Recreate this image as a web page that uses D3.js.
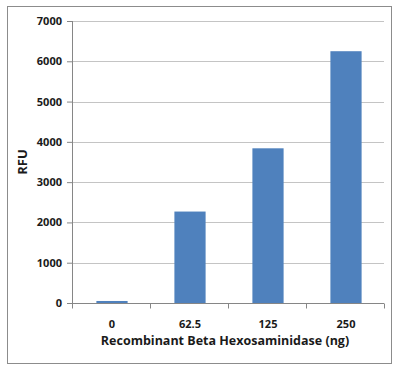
<!DOCTYPE html>
<html>
<head>
<meta charset="utf-8">
<script src="https://cdn.jsdelivr.net/npm/d3@7"></script>
<style>
  body { margin: 0; background: #fff; }
  text { font-family: "Open Sans", "DejaVu Sans", sans-serif; font-weight: bold; fill: #1a1a1a; }
</style>
</head>
<body>
<script>
// chart data
var categories = ["0", "62.5", "125", "250"]
var rfu = [50, 2270, 3840, 6250]
var yTicks = [0, 1000, 2000, 3000, 4000, 5000, 6000, 7000]

var margin = { left: 72, top: 21, right: 16, bottom: 68 }
var width = 400 - margin.left - margin.right
var height = 371 - margin.top - margin.bottom

var svg = d3.select("body").append("svg")
  .attr("width", 400)
  .attr("height", 371)

// outer frame
svg.append("rect")
  .attr("x", 7.5).attr("y", 6.5)
  .attr("width", 384).attr("height", 357)
  .attr("fill", "#fff")
  .attr("stroke", "#8c8c8c")

var chart = svg.append("g")
  .attr("transform", "translate(" + margin.left + "," + margin.top + ")")

var xscale = d3.scaleBand().domain(categories).range([0, width]).paddingInner(0.6).paddingOuter(0.3)
var yscale = d3.scaleLinear().domain([0, 7000]).range([height, 0])

// gridlines
chart.selectAll(".grid")
  .data(yTicks.slice(1))
  .enter()
  .append("line")
  .attr("x1", 0).attr("x2", width)
  .attr("y1", function (d) { return Math.round(yscale(d)) + 0.5 })
  .attr("y2", function (d) { return Math.round(yscale(d)) + 0.5 })
  .attr("stroke", "#c4c4c4")

// bars
chart.selectAll(".bar")
  .data(rfu)
  .enter()
  .append("rect")
  .attr("x", function (d, i) { return xscale(categories[i]) + 1 })
  .attr("y", function (d) { return yscale(d) })
  .attr("width", xscale.bandwidth())
  .attr("height", function (d) { return height - yscale(d) })
  .attr("fill", "#4f81bd")

// y axis
var yAxis = chart.append("g")
  .call(d3.axisLeft(yscale).tickValues(yTicks).tickFormat(d3.format("d")).tickSize(5).tickPadding(5))
yAxis.selectAll("path, line").attr("stroke", "#868686")
yAxis.selectAll("text").style("font-size", "11px")
yAxis.select(".domain").attr("d", "M0.5,0V" + height)

// x axis
var step = width / categories.length
var xAxis = chart.append("g").attr("transform", "translate(0," + (Math.round(height) + 0.5) + ")")
xAxis.append("line").attr("x1", -5).attr("x2", width).attr("stroke", "#868686")
xAxis.selectAll(".xtick")
  .data(d3.range(categories.length + 1))
  .enter()
  .append("line")
  .attr("x1", function (d) { return Math.round(d * step) + 0.5 })
  .attr("x2", function (d) { return Math.round(d * step) + 0.5 })
  .attr("y1", 0).attr("y2", 5)
  .attr("stroke", "#868686")
xAxis.selectAll(".xlabel")
  .data(categories)
  .enter()
  .append("text")
  .attr("x", function (d) { return xscale(d) + xscale.bandwidth() / 2 + 1 })
  .attr("y", 24)
  .attr("text-anchor", "middle")
  .style("font-size", "11px")
  .text(function (d) { return d })

// axis titles
svg.append("text")
  .attr("x", 225)
  .attr("y", 345)
  .attr("text-anchor", "middle")
  .style("font-size", "12.5px")
  .text("Recombinant Beta Hexosaminidase (ng)")

svg.append("text")
  .attr("transform", "translate(27," + (margin.top + height / 2) + ") rotate(-90)")
  .attr("text-anchor", "middle")
  .style("font-size", "13px")
  .text("RFU")
</script>
</body>
</html>
